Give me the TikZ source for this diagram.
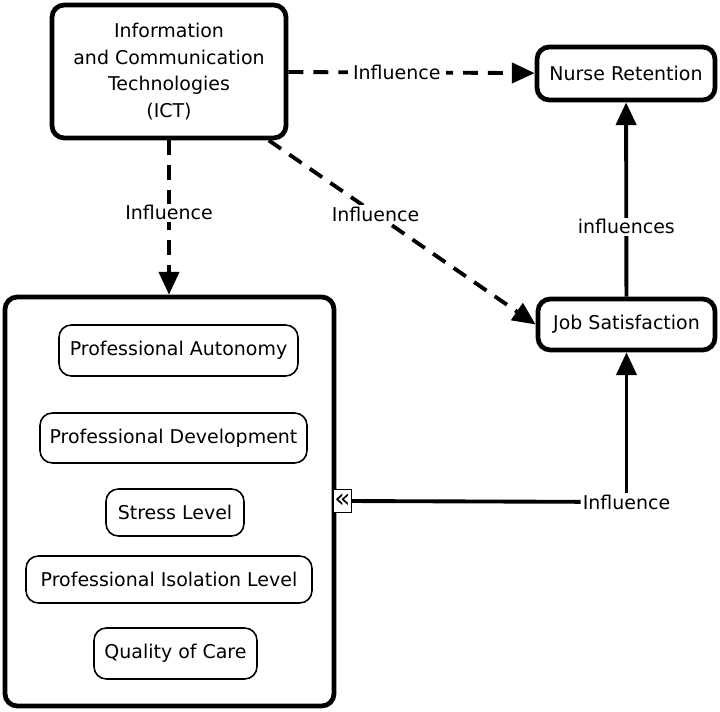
\documentclass[tikz,border=0pt]{standalone}
\usepackage{fontspec}
\setmainfont{DejaVu Sans}
\usetikzlibrary{arrows.meta,calc}

\begin{document}
\begin{tikzpicture}[x=0.02cm,y=-0.02cm,
	font=\fontsize{10.8}{15.3}\selectfont,
	mainbox/.style={draw, line width=2.7pt, rounded corners=7pt, align=center, inner sep=0pt},
	itembox/.style={draw, line width=0.9pt, rounded corners=7pt, inner sep=0pt},
	dasharrow/.style={line width=2.2pt, dash pattern=on 8.5pt off 5.7pt, -{Triangle[length=13pt,width=11.5pt]}},
	fullarrow/.style={line width=2.2pt, -{Triangle[length=13pt,width=11.5pt]}},
	lbl/.style={fill=white, inner xsep=3pt, inner ysep=1pt},
]

% parameters %{{{2

	\def\px{0.02cm}

	\useasboundingbox (0,0) rectangle (720,712);

% main boxes %{{{2

	\node[mainbox, minimum width=234*\px, minimum height=133*\px] (ict) at (169,71.5)
		{Information\\and Communication\\Technologies\\(ICT)};
	\node[mainbox, minimum width=178*\px, minimum height=53*\px] (nr) at (626,73.5) {Nurse Retention};
	\node[mainbox, minimum width=177*\px, minimum height=51*\px] (js) at (626.5,324.5) {Job Satisfaction};
	\node[mainbox, minimum width=329*\px, minimum height=409*\px] (group) at (169.5,501.5) {};

% factors inside the group %{{{2

	\node[itembox, minimum width=239*\px, minimum height=51*\px] (autonomy) at (178.5,350.5) {Professional Autonomy};
	\node[itembox, minimum width=267*\px, minimum height=50*\px] (development) at (173.5,438) {Professional Development};
	\node[itembox, minimum width=138*\px, minimum height=47*\px] (stress) at (175,512.5) {Stress Level};
	\node[itembox, minimum width=286*\px, minimum height=47*\px] (isolation) at (169,579.5) {Professional Isolation Level};
	\node[itembox, minimum width=163*\px, minimum height=51*\px] (care) at (175.5,653.5) {Quality of Care};

% link marker and label %{{{2

	\node[draw, fill=white, line width=0.8pt, inner sep=0pt, minimum width=18*\px, minimum height=23*\px,
		font=\fontsize{15}{15}\selectfont] (mark) at (342.5,501) {«};
	\node[lbl, inner xsep=1pt] (infl) at (626.5,502) {Influence};

% connectors %{{{2

	\draw[dasharrow] (ict) -- node[lbl, pos=0.44] {Influence} (nr);
	\draw[dasharrow] (ict) -- node[lbl, pos=0.47] {Influence} (ict |- group.north);
	\draw[dasharrow] (ict) -- node[lbl, pos=0.4] {Influence} (js.west);
	\draw[fullarrow] (js) -- node[lbl, pos=0.36] {influences} (nr);

	\draw[line width=2.2pt] (mark) -- (infl);
	\draw[fullarrow] (infl) -- (js);

% closing %{{{2

\end{tikzpicture}
\end{document}
